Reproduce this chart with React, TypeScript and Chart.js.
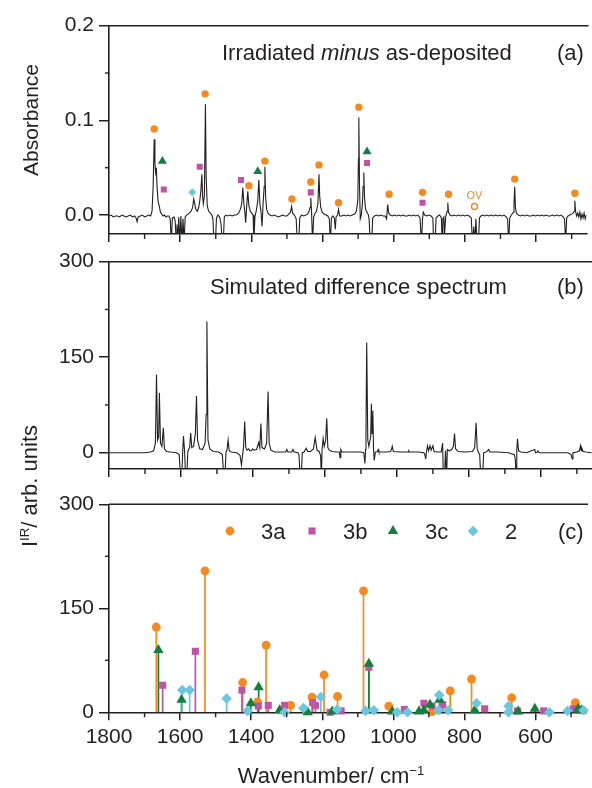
import React, { useEffect, useRef } from 'react';
import { Chart, registerables } from 'chart.js';
import { drawPoint } from 'chart.js/helpers';

Chart.register(...registerables);

const FONT = '"Liberation Sans", Arial, Helvetica, sans-serif';
const INK = '#231f20';
const ORANGE = '#f68a1e';
const MAGENTA = '#be54a3';
const GREEN = '#10803c';
const CYAN = '#6ac8de';

const X_MAX = 1800;
const X_MIN = 458;
const X_MINOR = [1700, 1500, 1300, 1100, 900, 700, 500];

// ---------- Panel (a): measured absorbance difference spectrum ----------
const absWn = [
  1800, 1794, 1788, 1782, 1776, 1770, 1764, 1758, 1752, 1746, 1740, 1734, 1728, 1724, 1721, 1718, 1712, 1706, 1700, 1694,
  1688, 1683, 1679, 1676, 1673, 1671, 1669, 1667, 1665, 1662, 1659, 1656, 1652, 1648, 1644, 1640, 1636, 1632, 1628, 1625,
  1622, 1617, 1614, 1611, 1609, 1607, 1604, 1601, 1598, 1595, 1592, 1589, 1586, 1582, 1577, 1572, 1568, 1565, 1562, 1559,
  1556, 1552, 1548, 1545, 1542, 1539, 1537, 1535, 1532, 1529, 1527, 1524, 1520, 1515, 1511, 1508, 1505, 1501, 1498, 1494,
  1489, 1485, 1482, 1479, 1476, 1472, 1466, 1460, 1454, 1448, 1442, 1436, 1431, 1427, 1424, 1421, 1418, 1416, 1413, 1410,
  1407, 1403, 1399, 1395, 1393, 1390, 1386, 1382, 1379, 1376, 1373, 1370, 1367, 1364, 1362, 1360, 1357, 1353, 1348, 1342,
  1336, 1330, 1324, 1318, 1312, 1306, 1300, 1295, 1290, 1287, 1284, 1279, 1274, 1271, 1267, 1264, 1259, 1253, 1247, 1242,
  1238, 1235, 1233, 1231, 1228, 1225, 1221, 1217, 1213, 1210, 1208, 1205, 1201, 1196, 1190, 1185, 1181, 1178, 1175, 1171,
  1167, 1164, 1162, 1158, 1155, 1152, 1146, 1140, 1134, 1128, 1122, 1116, 1110, 1105, 1101, 1099, 1098, 1096, 1094, 1091,
  1088, 1086, 1084, 1082, 1079, 1075, 1071, 1069, 1066, 1062, 1059, 1054, 1048, 1042, 1036, 1030, 1024, 1020, 1017, 1014,
  1010, 1004, 998, 992, 986, 980, 974, 968, 962, 956, 950, 944, 938, 932, 926, 922, 919, 917, 913, 907,
  901, 895, 890, 888, 884, 881, 876, 871, 866, 864, 862, 859, 857, 854, 850, 848, 846, 842, 836, 830,
  824, 818, 812, 806, 800, 794, 788, 782, 779, 775, 772, 769, 766, 762, 759, 755, 750, 744, 738, 732,
  726, 720, 714, 708, 702, 696, 690, 684, 680, 677, 674, 669, 664, 662, 660, 658, 655, 650, 644, 638,
  632, 626, 620, 614, 608, 602, 596, 590, 584, 578, 572, 566, 560, 554, 548, 542, 536, 530, 524, 520,
  517, 514, 510, 505, 500, 496, 493, 491, 489, 486, 483, 480, 477, 474, 471, 468, 465, 462, 459,
];
const absVal = [
  -0.001, 0.000, -0.002, -0.001, -0.001, -0.002, 0.000, -0.001, -0.002, -0.001, 0.000, -0.002, -0.001, -0.003, -0.007, -0.002, -0.001, 0.000, -0.002, -0.001,
  0.000, -0.001, 0.004, 0.030, 0.080, 0.055, 0.045, 0.050, 0.030, 0.014, 0.010, 0.004, 0.001, -0.001, 0.000, -0.002, -0.001, -0.001, -0.004, -0.030,
  -0.003, -0.002, -0.006, -0.030, -0.010, -0.030, -0.002, -0.030, -0.001, -0.030, -0.004, -0.030, -0.002, 0.000, 0.001, 0.003, 0.005, 0.008, 0.017, 0.012,
  0.006, 0.004, 0.008, 0.015, 0.025, 0.043, 0.020, 0.012, 0.020, 0.117, 0.040, 0.010, 0.004, 0.002, 0.000, -0.004, -0.030, -0.030, -0.003, 0.000,
  -0.002, -0.010, -0.030, -0.030, -0.002, 0.000, -0.001, 0.000, -0.001, 0.000, 0.000, 0.002, 0.006, 0.012, 0.029, 0.012, 0.002, -0.008, 0.010, 0.025,
  0.010, 0.004, 0.002, 0.000, -0.030, -0.002, 0.005, 0.015, 0.037, 0.012, 0.004, -0.012, 0.012, 0.030, 0.051, 0.020, 0.006, 0.002, 0.000, -0.001,
  0.000, -0.001, -0.002, -0.001, 0.000, -0.001, -0.001, 0.001, 0.003, 0.009, 0.002, 0.000, -0.004, -0.030, -0.030, -0.003, 0.000, -0.001, 0.000, 0.001,
  0.004, 0.008, 0.018, 0.005, -0.030, -0.002, 0.002, 0.004, 0.012, 0.043, 0.020, 0.008, 0.003, 0.001, 0.000, -0.001, -0.004, -0.030, -0.003, -0.001,
  -0.003, -0.015, -0.002, 0.000, 0.006, -0.001, -0.001, 0.000, -0.001, 0.000, -0.001, 0.000, 0.001, 0.004, 0.015, 0.060, 0.103, 0.030, -0.004, 0.000,
  0.012, 0.030, 0.045, 0.018, 0.006, 0.003, 0.000, -0.005, -0.030, -0.030, -0.003, -0.001, 0.000, -0.001, 0.000, -0.001, -0.001, -0.004, 0.011, 0.002,
  0.000, -0.001, 0.000, -0.001, 0.000, -0.001, 0.000, -0.001, -0.001, 0.000, -0.001, 0.000, -0.001, 0.000, -0.003, -0.030, -0.004, 0.003, 0.000, -0.001,
  0.000, -0.001, -0.003, -0.030, -0.030, -0.003, -0.001, 0.000, -0.003, -0.030, -0.004, -0.002, -0.020, -0.002, 0.004, 0.013, 0.003, 0.000, -0.001, 0.000,
  -0.001, 0.000, -0.001, 0.000, -0.001, 0.000, -0.001, -0.003, -0.030, -0.012, -0.030, -0.004, -0.030, -0.030, -0.003, -0.001, 0.000, -0.001, 0.000, -0.001,
  0.000, -0.001, 0.000, -0.001, 0.000, -0.001, 0.000, -0.002, -0.004, -0.030, -0.003, 0.000, 0.003, 0.012, 0.030, 0.008, 0.002, 0.000, -0.001, 0.000,
  -0.001, 0.000, -0.001, -0.001, 0.000, -0.001, 0.000, -0.001, 0.000, -0.001, 0.000, -0.001, -0.001, 0.000, -0.001, 0.000, -0.001, 0.000, -0.002, -0.004,
  -0.030, -0.003, -0.001, 0.000, 0.001, 0.002, 0.004, 0.015, 0.004, -0.001, 0.002, -0.002, 0.003, -0.004, 0.001, -0.003, 0.002, -0.004, 0.000,
];

// assignment markers above the measured bands
const a3aWn = [1673, 1530, 1407, 1362, 1286, 1233, 1210, 1155, 1098, 1013, 919, 846, 660, 491];
const a3aVal = [0.091, 0.128, 0.031, 0.057, 0.017, 0.035, 0.053, 0.013, 0.114, 0.022, 0.024, 0.022, 0.038, 0.023];
const a3bWn = [1646, 1545, 1429, 1233, 1075, 919];
const a3bVal = [0.027, 0.051, 0.037, 0.024, 0.055, 0.013];
const a3cWn = [1650, 1382, 1075];
const a3cVal = [0.057, 0.046, 0.067];
const a2Wn = [1566];
const a2Val = [0.024];
const ovWn = [773];
const ovVal = [0.009];

// ---------- Panel (b): simulated difference spectrum ----------
const simWn = [
  1800, 1700, 1685, 1676, 1671, 1668, 1665, 1662, 1660, 1657, 1653, 1649, 1646, 1640, 1630, 1612, 1605, 1601, 1598, 1595,
  1593, 1590, 1587, 1584, 1581, 1576, 1573, 1570, 1565, 1560, 1557, 1554, 1548, 1540, 1533, 1530, 1528, 1525, 1520, 1510,
  1495, 1485, 1481, 1478, 1475, 1472, 1469, 1466, 1460, 1445, 1436, 1432, 1429, 1426, 1423, 1420, 1416, 1412, 1409, 1404,
  1401, 1397, 1390, 1384, 1381, 1378, 1375, 1368, 1362, 1358, 1355, 1350, 1340, 1320, 1309, 1306, 1303, 1292, 1289, 1286,
  1275, 1272, 1269, 1266, 1263, 1258, 1252, 1248, 1240, 1232, 1227, 1222, 1216, 1212, 1210, 1208, 1205, 1202, 1198, 1195,
  1192, 1188, 1180, 1165, 1160, 1158, 1156, 1153, 1148, 1140, 1100, 1092, 1089, 1087, 1086, 1084, 1081, 1078, 1073, 1071,
  1069, 1067, 1065, 1063, 1060, 1054, 1052, 1050, 1030, 1018, 1015, 1013, 1010, 990, 969, 967, 965, 940, 925, 922,
  920, 918, 915, 912, 908, 905, 900, 897, 890, 877, 873, 871, 868, 865, 862, 860, 855, 848, 843, 840,
  837, 830, 810, 790, 784, 780, 777, 774, 770, 767, 762, 759, 752, 745, 742, 720, 690, 674, 671, 669,
  667, 665, 662, 655, 640, 617, 615, 610, 608, 605, 580, 525, 516, 513, 511, 500, 493, 490, 488, 486,
  483, 475, 459,
];
const simVal = [
  0, 0, 1, 3, 15, 123, 20, 25, 94, 15, 10, 39, 6, 2, 1, 0, -3, -40, -40, 5,
  26, 2, -40, -40, 2, 8, 31, 8, 10, 30, 89, 20, 6, 5, 15, 60, 206, 20, 6, 2,
  1, -3, -40, -40, 0, 5, 20, 3, 1, 0, -4, -19, -5, 10, 49, 8, 4, 6, 3, 3,
  6, 4, 5, 16, 8, 46, 8, 6, 15, 96, 15, 4, 1, 1, 1, 5, 1, 1, 5, 1,
  0, -4, -40, -40, 0, 1, 7, 2, 2, 6, 24, 4, 2, -5, -40, 5, 22, 10, 20, 54,
  8, 4, 2, 1, 1, -8, 5, 1, 1, 1, 1, 0, -17, 5, 30, 173, 20, 10, 25, 77,
  30, 66, 5, -12, 1, 2, 5, 1, 1, 2, 5, 10, 2, 1, 1, 3, 1, 1, 0, -4,
  -10, 1, 11, 3, 11, 4, 11, 2, 1, 1, 15, -40, -40, 3, -40, 5, 3, 5, 10, 30,
  6, 2, 1, 2, 8, 47, 6, 1, -3, -40, -40, 0, 1, 5, 1, 1, 0, -3, -10, -40,
  3, 22, 3, 1, 0, 5, 0, 1, 3, 0, 0, 0, -3, -10, 0, 1, 3, 11, 3, 7,
  2, 1, 0,
];

// ---------- Panel (c): calculated stick spectra ----------
const c3aWn = [1667, 1530, 1424, 1382, 1358, 1289, 1229, 1195, 1157, 1084, 1013, 891, 840, 780, 667, 488];
const c3aVal = [123, 204, 43, 15, 97, 10, 22, 54, 23, 175, 9, 1, 31, 48, 21, 14];
const c3bWn = [1649, 1557, 1426, 1380, 1352, 1306, 1227, 1219, 1178, 1147, 1069, 969, 914, 891, 861, 743, 651, 577, 494, 470];
const c3bVal = [39, 88, 32, 9, 10, 10, 14, 10, 0, 2, 65, 4, 13, 9, 11, 5, 2, 2, 5, 3];
const c3cWn = [1661, 1596, 1401, 1379, 1320, 1241, 1172, 1069, 1003, 928, 914, 897, 870, 771, 649, 602, 480, 471];
const c3cVal = [90, 18, 13, 36, 3, 0, 1, 70, 1, 1, 3, 11, 18, 3, 1, 5, 5, 3];
const c2Wn = [1594, 1573, 1469, 1410, 1306, 1253, 1204, 1158, 1078, 1055, 989, 960, 871, 873, 846, 766, 676, 676, 561, 510, 465];
const c2Val = [32, 32, 20, 2, 0, 6, 22, 4, 2, 3, 0, 0, 25, 3, 3, 13, 9, 0, 0, 2, 3];

const legendLabels = ['3a', '3b', '3c', '2'];

// ---------- helpers ----------
const pts = (xs: number[], ys: number[]) => xs.map((x, i) => ({ x, y: ys[i] }));
const stems = (xs: number[], ys: number[]) =>
  xs.flatMap((x, i) => [{ x, y: 0 }, { x, y: ys[i] }, { x, y: null as any }]);

const tickFont = { family: FONT, size: 21 };

function xScale(showLabels: boolean, height: number) {
  return {
    type: 'linear' as const,
    reverse: true,
    min: X_MIN,
    max: X_MAX,
    ticks: {
      display: showLabels,
      stepSize: 200,
      includeBounds: false,
      autoSkip: false,
      maxRotation: 0,
      color: INK,
      font: tickFont,
      padding: 4,
      callback: (v: any) => String(v),
    },
    grid: { drawOnChartArea: false, drawTicks: true, tickLength: 8, color: INK, lineWidth: 1.5 },
    border: { display: true, color: INK, width: 1.6 },
    afterFit: (s: any) => {
      s.height = height;
      s.paddingLeft = 0;
      s.paddingRight = 0;
    },
  };
}

function yScale(min: number, max: number, step: number, fmt: (v: number) => string) {
  return {
    type: 'linear' as const,
    min,
    max,
    ticks: {
      stepSize: step,
      includeBounds: false,
      color: INK,
      font: tickFont,
      padding: 5,
      callback: (v: any) => fmt(Number(v)),
    },
    grid: { drawOnChartArea: false, drawTicks: true, tickLength: 10, color: INK, lineWidth: 1.5 },
    border: { display: true, color: INK, width: 1.6 },
    afterFit: (s: any) => {
      s.width = 109;
      s.paddingTop = 0;
      s.paddingBottom = 0;
    },
  };
}

// frame: top border + minor ticks
const framePlugin = {
  id: 'frame',
  afterDraw(chart: any, _args: any, opts: any) {
    const { ctx, chartArea } = chart;
    const xs = chart.scales.x;
    const ys = chart.scales.y;
    ctx.save();
    ctx.strokeStyle = INK;
    ctx.lineWidth = 1.6;
    ctx.beginPath();
    ctx.moveTo(chartArea.left, chartArea.top);
    ctx.lineTo(chartArea.right + 2, chartArea.top);
    ctx.stroke();
    ctx.lineWidth = 1.4;
    for (const v of X_MINOR) {
      const px = xs.getPixelForValue(v);
      ctx.beginPath();
      ctx.moveTo(px, chartArea.bottom);
      ctx.lineTo(px, chartArea.bottom + 5);
      ctx.stroke();
    }
    for (const v of opts.yMinor || []) {
      const py = ys.getPixelForValue(v);
      ctx.beginPath();
      ctx.moveTo(chartArea.left, py);
      ctx.lineTo(chartArea.left - 4, py);
      ctx.stroke();
    }
    ctx.restore();
  },
};

// in-panel text labels
const textPlugin = {
  id: 'panelText',
  afterDraw(chart: any, _args: any, opts: any) {
    const { ctx } = chart;
    ctx.save();
    ctx.textBaseline = 'alphabetic';
    for (const item of opts.items || []) {
      let x = item.x;
      for (const run of item.runs) {
        ctx.font = `${run.italic ? 'italic ' : ''}${item.size}px ${FONT}`;
        ctx.fillStyle = run.color || INK;
        ctx.fillText(run.text, x, item.y);
        x += ctx.measureText(run.text).width;
      }
    }
    if (opts.ov) {
      const px = chart.scales.x.getPixelForValue(opts.ov.x);
      const py = chart.scales.y.getPixelForValue(opts.ov.y);
      ctx.font = `11px ${FONT}`;
      ctx.fillStyle = ORANGE;
      ctx.textAlign = 'center';
      ctx.fillText('OV', px, py - 8);
    }
    if (opts.legend) {
      const L = opts.legend;
      ctx.font = `${L.size}px ${FONT}`;
      ctx.textAlign = 'left';
      L.items.forEach((it: any, i: number) => {
        ctx.fillStyle = it.color;
        ctx.strokeStyle = it.color;
        drawPoint(ctx, { pointStyle: it.style, radius: it.radius, borderWidth: 0, rotation: 0 } as any, it.mx, L.my);
        ctx.fillStyle = INK;
        ctx.fillText(legendLabels[i], it.tx, L.y);
      });
    }
    ctx.restore();
  },
};

const baseOptions = {
  responsive: false,
  animation: false as const,
  events: [] as any[],
};

function configA(): any {
  return {
    type: 'scatter',
    data: {
      datasets: [
        { data: pts(absWn, absVal), showLine: true, borderColor: INK, borderWidth: 1.1, pointRadius: 0, order: 10 },
        { data: pts(a3aWn, a3aVal), pointStyle: 'circle', pointRadius: 3.7, backgroundColor: ORANGE, borderWidth: 0, order: 4 },
        { data: pts(a3bWn, a3bVal), pointStyle: 'rect', pointRadius: 4.3, backgroundColor: MAGENTA, borderWidth: 0, order: 3 },
        { data: pts(a3cWn, a3cVal), pointStyle: 'triangle', pointRadius: 5.2, backgroundColor: GREEN, borderWidth: 0, order: 2 },
        { data: pts(a2Wn, a2Val), pointStyle: 'rectRot', pointRadius: 4, backgroundColor: CYAN, borderWidth: 0, order: 1 },
        { data: pts(ovWn, ovVal), pointStyle: 'circle', pointRadius: 3, backgroundColor: '#ffffff', borderColor: ORANGE, borderWidth: 1.4, order: 1 },
      ],
    },
    options: {
      ...baseOptions,
      layout: { padding: { top: 25.7, left: 0, right: 0, bottom: 0 } },
      scales: {
        x: xScale(false, 11),
        y: yScale(-0.02, 0.2, 0.1, (v) => v.toFixed(1)),
      },
      plugins: {
        legend: { display: false },
        tooltip: { enabled: false },
        frame: { yMinor: [0.05, 0.15] },
        panelText: {
          items: [
            { x: 222, y: 60, size: 22, runs: [{ text: 'Irradiated ' }, { text: 'minus', italic: true }, { text: ' as-deposited' }] },
            { x: 557, y: 60, size: 22, runs: [{ text: '(a)' }] },
          ],
          ov: { x: ovWn[0], y: ovVal[0] },
        },
      },
    },
    plugins: [framePlugin, textPlugin],
  };
}

function configB(): any {
  return {
    type: 'scatter',
    data: {
      datasets: [{ data: pts(simWn, simVal), showLine: true, borderColor: INK, borderWidth: 1.1, pointRadius: 0 }],
    },
    options: {
      ...baseOptions,
      layout: { padding: { top: 16.7, left: 0, right: 0, bottom: 0 } },
      scales: {
        x: xScale(false, 16),
        y: yScale(-25.6, 300, 150, (v) => String(v)),
      },
      plugins: {
        legend: { display: false },
        tooltip: { enabled: false },
        frame: { yMinor: [75, 225] },
        panelText: {
          items: [
            { x: 210, y: 48.5, size: 22, runs: [{ text: 'Simulated difference spectrum' }] },
            { x: 557, y: 48.5, size: 22, runs: [{ text: '(b)' }] },
          ],
        },
      },
    },
    plugins: [framePlugin, textPlugin],
  };
}

function configC(): any {
  const stem = (xs: number[], ys: number[], color: string, order: number) => ({
    data: stems(xs, ys),
    showLine: true,
    spanGaps: false,
    borderColor: color,
    borderWidth: 1.7,
    pointRadius: 0,
    order,
  });
  const mark = (xs: number[], ys: number[], style: string, r: number, color: string, order: number) => ({
    data: pts(xs, ys),
    pointStyle: style,
    pointRadius: r,
    backgroundColor: color,
    borderWidth: 0,
    clip: false,
    order,
  });
  return {
    type: 'scatter',
    data: {
      datasets: [
        stem(c3aWn, c3aVal, ORANGE, 20),
        stem(c3bWn, c3bVal, MAGENTA, 19),
        stem(c3cWn, c3cVal, GREEN, 18),
        stem(c2Wn, c2Val, CYAN, 17),
        mark(c3aWn, c3aVal, 'circle', 4.4, ORANGE, 4),
        mark(c3bWn, c3bVal, 'rect', 5, MAGENTA, 3),
        mark(c3cWn, c3cVal, 'triangle', 6, GREEN, 2),
        mark(c2Wn, c2Val, 'rectRot', 5.3, CYAN, 1),
      ],
    },
    options: {
      ...baseOptions,
      layout: { padding: { top: 19.3, left: 0, right: 0, bottom: 0 } },
      scales: {
        x: xScale(true, 75.7),
        y: yScale(0, 300, 150, (v) => String(v)),
      },
      plugins: {
        legend: { display: false },
        tooltip: { enabled: false },
        frame: { yMinor: [75, 225] },
        panelText: {
          items: [{ x: 558, y: 54, size: 22, runs: [{ text: '(c)' }] }],
          legend: {
            size: 22,
            y: 54,
            my: 46,
            items: [
              { style: 'circle', radius: 4.4, color: ORANGE, mx: 230, tx: 261 },
              { style: 'rect', radius: 5, color: MAGENTA, mx: 312, tx: 343 },
              { style: 'triangle', radius: 6, color: GREEN, mx: 393, tx: 425 },
              { style: 'rectRot', radius: 5.3, color: CYAN, mx: 473, tx: 505 },
            ],
          },
        },
      },
    },
    plugins: [framePlugin, textPlugin],
  };
}

function Panel({ top, height, make }: { top: number; height: number; make: () => any }) {
  const ref = useRef<HTMLCanvasElement>(null);
  useEffect(() => {
    const chart = new Chart(ref.current as HTMLCanvasElement, make());
    return () => chart.destroy();
  }, []);
  return (
    <canvas
      ref={ref}
      width={592}
      height={height}
      style={{ position: 'absolute', left: 0, top, width: 592, height }}
    />
  );
}

export default function App() {
  const titleStyle: React.CSSProperties = {
    position: 'absolute',
    whiteSpace: 'nowrap',
    fontFamily: FONT,
    fontSize: 21,
    color: INK,
    lineHeight: 1,
  };
  return (
    <div style={{ position: 'absolute', left: 0, top: 0, width: 592, height: 788, overflow: 'hidden', background: '#fff' }}>
      <Panel top={0} height={245} make={configA} />
      <Panel top={245} height={240} make={configB} />
      <Panel top={485} height={303} make={configC} />
      <div style={{ ...titleStyle, left: 30, top: 120, transform: 'translate(-50%, -50%) rotate(-90deg)' }}>Absorbance</div>
      <div style={{ ...titleStyle, fontSize: 22, left: 30, top: 486, transform: 'translate(-50%, -50%) rotate(-90deg)' }}>
        I<sup style={{ fontSize: '0.6em', verticalAlign: '0.6em', lineHeight: 0 }}>IR</sup>/ arb. units
      </div>
      <div style={{ ...titleStyle, fontSize: 22, left: 331, top: 776, transform: 'translate(-50%, -50%)' }}>
        Wavenumber/ cm<sup style={{ fontSize: '0.6em', verticalAlign: '0.6em', lineHeight: 0 }}>−1</sup>
      </div>
    </div>
  );
}
